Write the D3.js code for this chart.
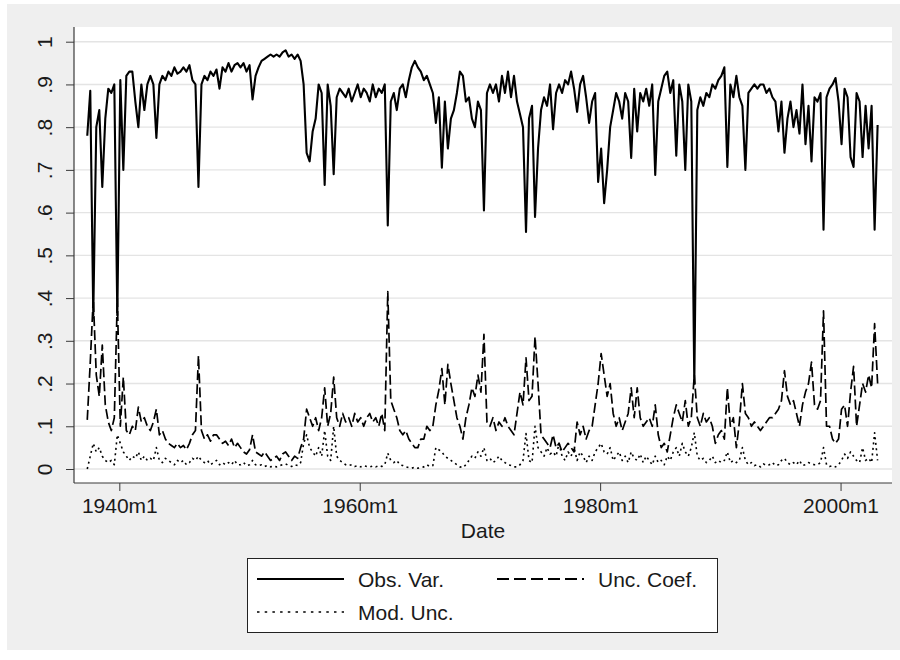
<!DOCTYPE html>
<html><head><meta charset="utf-8">
<script src="https://cdn.jsdelivr.net/npm/d3@7"></script>
<style>body{margin:0;background:#fff} svg{display:block} text{font-family:"Liberation Sans",Arial,Helvetica,sans-serif}</style>
</head><body><svg id="c" width="900" height="660"></svg>
<script>
// Monthly series sampled every 3 months, starting 1937m5
const startYear = 1937, startMonth = 5, stepMonths = 3;

const obsVar = [
  0.78, 0.885, 0.36,
  0.80, 0.84, 0.66, 0.82,
  0.89, 0.88, 0.90, 0.36,
  0.91, 0.70, 0.92, 0.93,
  0.93, 0.86, 0.80, 0.90,
  0.84, 0.90, 0.92, 0.90,
  0.775, 0.90, 0.92, 0.91,
  0.93, 0.92, 0.94, 0.925,
  0.93, 0.94, 0.93, 0.945,
  0.91, 0.90, 0.66, 0.90,
  0.92, 0.91, 0.93, 0.92,
  0.935, 0.89, 0.94, 0.93,
  0.95, 0.93, 0.945, 0.95,
  0.94, 0.95, 0.93, 0.945,
  0.865, 0.92, 0.94, 0.955,
  0.96, 0.965, 0.97, 0.965,
  0.97, 0.965, 0.975, 0.98,
  0.965, 0.97, 0.96, 0.97,
  0.955, 0.90, 0.74, 0.72,
  0.79, 0.82, 0.90, 0.88,
  0.665, 0.90, 0.85, 0.69,
  0.87, 0.89, 0.88, 0.87,
  0.89, 0.86, 0.88, 0.90,
  0.87, 0.89, 0.88, 0.86,
  0.90, 0.87, 0.89, 0.88,
  0.90, 0.57, 0.86, 0.88,
  0.84, 0.89, 0.90, 0.87,
  0.91, 0.94, 0.955, 0.94,
  0.93, 0.91, 0.92, 0.90,
  0.88, 0.81, 0.87, 0.705,
  0.86, 0.75, 0.82, 0.84,
  0.88, 0.93, 0.92, 0.86,
  0.87, 0.82, 0.80, 0.86,
  0.84, 0.605, 0.88, 0.90,
  0.88, 0.90, 0.86, 0.92,
  0.88, 0.93, 0.87, 0.92,
  0.86, 0.83, 0.80, 0.555,
  0.82, 0.85, 0.59, 0.75,
  0.84, 0.87, 0.85, 0.90,
  0.795, 0.88, 0.90, 0.88,
  0.91, 0.90, 0.93, 0.89,
  0.836, 0.90, 0.92, 0.87,
  0.81, 0.86, 0.88, 0.672,
  0.75, 0.622, 0.70, 0.80,
  0.84, 0.88, 0.86, 0.82,
  0.88, 0.86, 0.728, 0.89,
  0.79, 0.88, 0.86, 0.89,
  0.85, 0.90, 0.688, 0.86,
  0.89, 0.92, 0.93, 0.88,
  0.91, 0.733, 0.90, 0.86,
  0.70, 0.90, 0.86, 0.20,
  0.84, 0.87, 0.85, 0.88,
  0.87, 0.90, 0.89, 0.91,
  0.92, 0.94, 0.707, 0.90,
  0.87, 0.92, 0.87, 0.85,
  0.70, 0.88, 0.89, 0.90,
  0.89, 0.90, 0.90, 0.88,
  0.89, 0.87, 0.86, 0.79,
  0.86, 0.74, 0.82, 0.86,
  0.80, 0.84, 0.785, 0.90,
  0.76, 0.85, 0.72, 0.87,
  0.86, 0.88, 0.56, 0.87,
  0.89, 0.90, 0.915, 0.86,
  0.76, 0.89, 0.87, 0.73,
  0.707, 0.88, 0.86, 0.73,
  0.85, 0.75, 0.85, 0.56,
  0.805
];

const uncCoef = [
  0.115, 0.25, 0.40,
  0.22, 0.17, 0.29, 0.15,
  0.11, 0.09, 0.12, 0.40,
  0.10, 0.215, 0.09, 0.08,
  0.10, 0.09, 0.145, 0.11,
  0.12, 0.10, 0.09, 0.11,
  0.14, 0.08, 0.09, 0.07,
  0.06, 0.055, 0.05, 0.06,
  0.05, 0.055, 0.045, 0.06,
  0.08, 0.09, 0.265, 0.09,
  0.07, 0.08, 0.065, 0.08,
  0.08, 0.07, 0.06, 0.065,
  0.055, 0.07, 0.05, 0.06,
  0.05, 0.04, 0.035, 0.045,
  0.08, 0.04, 0.035, 0.03,
  0.04, 0.03, 0.02, 0.025,
  0.03, 0.02, 0.035, 0.04,
  0.03, 0.02, 0.03, 0.025,
  0.05, 0.07, 0.14, 0.12,
  0.10, 0.12, 0.09, 0.12,
  0.19, 0.10, 0.13, 0.215,
  0.12, 0.10, 0.13, 0.11,
  0.12, 0.10, 0.13, 0.11,
  0.12, 0.10, 0.12, 0.13,
  0.11, 0.12, 0.10, 0.13,
  0.09, 0.415, 0.16, 0.14,
  0.12, 0.09, 0.08, 0.09,
  0.07, 0.06, 0.05, 0.05,
  0.07, 0.07, 0.10, 0.09,
  0.10, 0.15, 0.185, 0.235,
  0.15, 0.245, 0.20, 0.16,
  0.12, 0.10, 0.07, 0.12,
  0.15, 0.19, 0.17, 0.22,
  0.18, 0.315, 0.11, 0.10,
  0.12, 0.09, 0.11, 0.10,
  0.12, 0.10, 0.09, 0.08,
  0.13, 0.18, 0.15, 0.26,
  0.16, 0.17, 0.31, 0.20,
  0.08, 0.07, 0.06, 0.05,
  0.08, 0.05, 0.06, 0.04,
  0.05, 0.06, 0.05, 0.04,
  0.11, 0.08, 0.10, 0.07,
  0.09, 0.10, 0.15, 0.20,
  0.27, 0.22, 0.17, 0.20,
  0.13, 0.10, 0.12, 0.09,
  0.11, 0.13, 0.19, 0.12,
  0.19, 0.12, 0.10, 0.11,
  0.12, 0.10, 0.15, 0.08,
  0.05, 0.06, 0.04, 0.08,
  0.12, 0.15, 0.13, 0.11,
  0.16, 0.10, 0.12, 0.22,
  0.12, 0.10, 0.13, 0.11,
  0.12, 0.10, 0.06, 0.08,
  0.09, 0.07, 0.19, 0.10,
  0.12, 0.05, 0.11, 0.20,
  0.13, 0.12, 0.10, 0.11,
  0.10, 0.09, 0.10, 0.11,
  0.12, 0.12, 0.13, 0.14,
  0.16, 0.23, 0.17, 0.15,
  0.16, 0.13, 0.10, 0.15,
  0.18, 0.20, 0.25, 0.15,
  0.14, 0.16, 0.37, 0.10,
  0.10, 0.07, 0.06, 0.07,
  0.14, 0.15, 0.10, 0.18,
  0.24, 0.10, 0.15, 0.20,
  0.18, 0.22, 0.19, 0.34,
  0.20
];

const modUnc = [
  0.0, 0.03, 0.06,
  0.04, 0.05, 0.03, 0.02,
  0.015, 0.02, 0.01, 0.08,
  0.06, 0.04, 0.03, 0.02,
  0.03, 0.025, 0.04, 0.02,
  0.03, 0.02, 0.025, 0.02,
  0.05, 0.02, 0.015, 0.025,
  0.02, 0.015, 0.01, 0.02,
  0.015, 0.02, 0.01, 0.015,
  0.025, 0.02, 0.03, 0.02,
  0.015, 0.02, 0.01, 0.015,
  0.02, 0.01, 0.015, 0.01,
  0.015, 0.01, 0.02, 0.01,
  0.01, 0.015, 0.008, 0.01,
  0.02, 0.01, 0.008, 0.01,
  0.006, 0.008, 0.005, 0.007,
  0.005, 0.008, 0.01, 0.012,
  0.008, 0.006, 0.01, 0.008,
  0.015, 0.06, 0.08, 0.05,
  0.04, 0.03, 0.05, 0.03,
  0.09, 0.03, 0.02, 0.10,
  0.03, 0.02, 0.015, 0.01,
  0.008, 0.01, 0.006, 0.008,
  0.005, 0.008, 0.006, 0.005,
  0.007, 0.005, 0.008, 0.006,
  0.01, 0.037, 0.02, 0.015,
  0.02, 0.01, 0.008, 0.005,
  0.003, 0.002, 0.004, 0.002,
  0.003, 0.005, 0.01, 0.006,
  0.008, 0.05, 0.045, 0.04,
  0.03, 0.025, 0.02, 0.015,
  0.01, 0.005, 0.003, 0.01,
  0.02, 0.03, 0.025, 0.04,
  0.03, 0.05, 0.02, 0.025,
  0.015, 0.02, 0.03, 0.02,
  0.015, 0.01, 0.008, 0.005,
  0.005, 0.01, 0.02, 0.083,
  0.02, 0.015, 0.10, 0.05,
  0.04, 0.03, 0.05, 0.035,
  0.04, 0.03, 0.06, 0.03,
  0.02, 0.04, 0.03, 0.05,
  0.02, 0.04, 0.03, 0.015,
  0.03, 0.02, 0.04, 0.05,
  0.06, 0.04, 0.035, 0.05,
  0.02, 0.03, 0.04, 0.02,
  0.03, 0.015, 0.04, 0.025,
  0.02, 0.035, 0.015, 0.03,
  0.02, 0.01, 0.03, 0.015,
  0.02, 0.01, 0.03, 0.02,
  0.04, 0.05, 0.03, 0.06,
  0.04, 0.03, 0.05, 0.085,
  0.03, 0.02, 0.025, 0.015,
  0.02, 0.03, 0.015, 0.02,
  0.015, 0.02, 0.04, 0.015,
  0.02, 0.015, 0.02, 0.05,
  0.02, 0.01, 0.015, 0.008,
  0.01, 0.005, 0.012, 0.008,
  0.01, 0.015, 0.008, 0.01,
  0.02, 0.025, 0.015, 0.01,
  0.015, 0.01, 0.02, 0.008,
  0.01, 0.015, 0.012, 0.01,
  0.01, 0.015, 0.05, 0.01,
  0.006, 0.008, 0.005, 0.01,
  0.02, 0.035, 0.025, 0.04,
  0.03, 0.02, 0.015, 0.05,
  0.02, 0.025, 0.015, 0.085,
  0.02
];

const yTicks = [0, 0.1, 0.2, 0.3, 0.4, 0.5, 0.6, 0.7, 0.8, 0.9, 1];
const yTickLabels = ["0", ".1", ".2", ".3", ".4", ".5", ".6", ".7", ".8", ".9", "1"];
const xTicks = [1940, 1960, 1980, 2000];
const xTickLabels = ["1940m1", "1960m1", "1980m1", "2000m1"];
const xTitle = "Date";
const seriesNames = ["Obs. Var.", "Unc. Coef.", "Mod. Unc."];

const dateOf = i => startYear + (startMonth - 1 + stepMonths * i) / 12;

const W = 900, H = 660;
const P = { l: 74, r: 892, t: 27, b: 483 };
const svg = d3.select("#c");
const FS = 21;
const axisColor = "#3a3a3a", textColor = "#1a1a1a";

svg.append("rect").attr("x", 7).attr("y", 4).attr("width", W - 7).attr("height", 646).attr("fill", "#efefef");
svg.append("rect").attr("x", P.l).attr("y", P.t).attr("width", P.r - P.l).attr("height", P.b - P.t).attr("fill", "#fff");

const x = d3.scaleLinear().domain([1936.23, 2004.28]).range([P.l, P.r]);
const y = d3.scaleLinear().domain([0, 1]).range([469, 41.7]);

// gridlines
svg.append("g").selectAll("line").data(yTicks).join("line")
  .attr("x1", P.l).attr("x2", P.r)
  .attr("y1", d => y(d)).attr("y2", d => y(d))
  .attr("stroke", "#e4e4e4").attr("stroke-width", 1.4);

// series
const line = d3.line().x((d, i) => x(dateOf(i))).y(d => y(d));
const styles = [
  { data: obsVar, w: 2.1, dash: null },
  { data: uncCoef, w: 1.7, dash: "10,4" },
  { data: modUnc, w: 1.6, dash: "2,3.5" }
];
const seriesG = svg.append("g");
[styles[2], styles[1], styles[0]].forEach(s => {
  seriesG.append("path").datum(s.data).attr("d", line)
    .attr("fill", "none").attr("stroke", "#000").attr("stroke-width", s.w)
    .attr("stroke-linejoin", "round")
    .attr("stroke-dasharray", s.dash);
});

// axes
const yAxis = d3.axisLeft(y).tickValues(yTicks).tickFormat((d, i) => yTickLabels[i]).tickSize(8).tickSizeOuter(0);
const gy = svg.append("g").attr("transform", `translate(${P.l},0)`).call(yAxis);
gy.select(".domain").remove();
gy.selectAll(".tick line").attr("stroke", axisColor);
gy.selectAll(".tick text").attr("x", 0).attr("y", 0).attr("dy", null)
  .attr("text-anchor", "middle").attr("transform", "translate(-22,0) rotate(-90)")
  .attr("font-size", FS).attr("font-family", "Liberation Sans, Arial, sans-serif").attr("fill", textColor);

const xAxis = d3.axisBottom(x).tickValues(xTicks).tickFormat((d, i) => xTickLabels[i]).tickSize(8).tickSizeOuter(0);
const gx = svg.append("g").attr("transform", `translate(0,${P.b})`).call(xAxis);
gx.select(".domain").remove();
gx.selectAll(".tick line").attr("stroke", axisColor);
gx.selectAll(".tick text").attr("y", 30).attr("dy", null)
  .attr("font-size", FS).attr("font-family", "Liberation Sans, Arial, sans-serif").attr("fill", textColor);

svg.append("line").attr("x1", P.l).attr("x2", P.l).attr("y1", P.t).attr("y2", P.b).attr("stroke", axisColor).attr("stroke-width", 1.2);
svg.append("line").attr("x1", P.l).attr("x2", P.r).attr("y1", P.b).attr("y2", P.b).attr("stroke", axisColor).attr("stroke-width", 1.2);

svg.append("text").attr("x", (P.l + P.r) / 2).attr("y", 538).attr("text-anchor", "middle")
  .attr("font-size", FS).attr("fill", textColor).text(xTitle);

// legend
const lg = svg.append("g");
lg.append("rect").attr("x", 247.5).attr("y", 558.5).attr("width", 470).attr("height", 74)
  .attr("fill", "#fff").attr("stroke", "#222").attr("stroke-width", 1);
const legendItems = [
  { name: seriesNames[0], x: 257, y: 579, dash: null, w: 1.8 },
  { name: seriesNames[1], x: 497, y: 579, dash: "12,5", w: 1.8 },
  { name: seriesNames[2], x: 257, y: 612, dash: "2.5,5.2", w: 1.6 }
];
legendItems.forEach(it => {
  lg.append("line").attr("x1", it.x).attr("x2", it.x + 87).attr("y1", it.y).attr("y2", it.y)
    .attr("stroke", "#000").attr("stroke-width", it.w).attr("stroke-dasharray", it.dash);
  lg.append("text").attr("x", it.x + 101).attr("y", it.y + 8).attr("font-size", FS)
    .attr("fill", textColor).text(it.name);
});
</script></body></html>
